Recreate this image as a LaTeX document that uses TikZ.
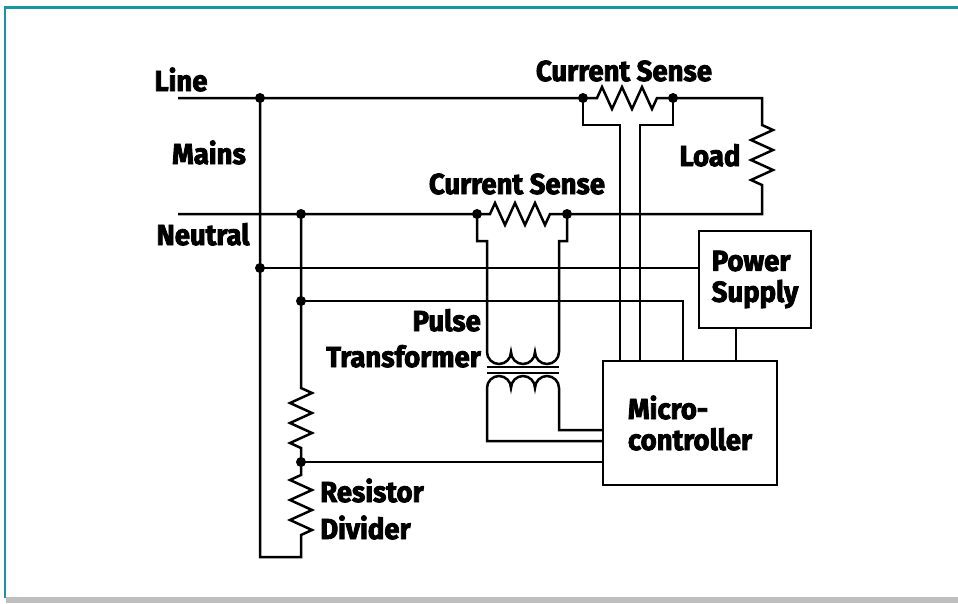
\documentclass[tikz,border=0pt]{standalone}
\usepackage{fontspec}
\usetikzlibrary{decorations.pathmorphing}
\newfontfamily\natpisfont{Fira Sans}[FakeStretch=0.95, FakeBold=2.8]
\definecolor{okvir}{RGB}{22,150,160}
\definecolor{siva}{RGB}{190,190,190}
\tikzset{zica/.style={line width=2.5pt},
    otpornik/.style={decoration={zigzag, segment length=20pt, amplitude=11pt}},
    otpornik2/.style={decoration={zigzag, segment length=20pt, amplitude=-11pt}},
    natpis/.style={font=\natpisfont\bfseries\fontsize{29}{33}\selectfont, inner sep=0pt},
    kutija/.style={draw, line width=2.5pt, inner sep=0pt,
        font=\natpisfont\bfseries\fontsize{29}{31}\selectfont}}

\begin{document}
\begin{tikzpicture}[x=1pt, y=-1pt]
    \useasboundingbox (0,0) rectangle (958,603);

    %okvir
    \fill[okvir] (4,6) rectangle (958,9);
    \fill[okvir] (4,6) rectangle (6,598);
    \fill[siva] (6,597) rectangle (958,603);

    %kutije
    \node[kutija, minimum width=174pt, minimum height=124pt, align=left]
        (mikro) at (690,423) {Micro-\\controller};
    \node[kutija, minimum width=112pt, minimum height=97pt, align=left]
        (napajanje) at (755,279.5) {Power\\Supply};

    %natpisi
    \node[natpis, anchor=base] (line) at (181,91) {Line};
    \node[natpis, anchor=base] (mains) at (209,164) {Mains};
    \node[natpis, anchor=base] (neutral) at (203,245) {Neutral};
    \node[natpis, anchor=base] (sensgore) at (624,81) {Current Sense};
    \node[natpis, anchor=base] (sensdole) at (517,194) {Current Sense};
    \node[natpis, anchor=base] (load) at (710,166) {Load};
    \node[natpis, anchor=base east] (pulse) at (481,331) {Pulse};
    \node[natpis, anchor=base east] (transf) at (481,367) {Transformer};
    \node[natpis, anchor=base west] (resistor) at (320,502) {Resistor};
    \node[natpis, anchor=base west] (divider) at (320,539) {Divider};

    %tacke
    \coordinate (l1) at (260,98);
    \coordinate (l2) at (583,98);
    \coordinate (l3) at (673,98);
    \coordinate (n1) at (301,214);
    \coordinate (n2) at (477,214);
    \coordinate (n3) at (567,214);
    \coordinate (m1) at (260,268);
    \coordinate (m2) at (301,301);
    \coordinate (d1) at (301,462);

    %linija i opterecenje
    \draw[zica] (178,98) -- (l1) -- (l2) -- (597,98)
        decorate[otpornik] {-- (657,98)} -- (l3) -- (762,98) -- (762,125)
        decorate[otpornik] {-- (762,185)} -- (762,214) -- (n3);
    %neutralni
    \draw[zica] (178,214) -- (n1) -- (n2) -- (490,214)
        decorate[otpornik] {-- (552,214)} -- (n3);

    %senzor gore
    \draw[zica] (l2) -- (583,125) -- (620,125) -- (620,0 |- mikro.north);
    \draw[zica] (l3) -- (673,125) -- (640,125) -- (640,0 |- mikro.north);

    %senzor dole i transformator
    \draw[zica] (n2) -- (477,241) -- (487,241) -- (487,352)
        arc[start angle=180, end angle=360, radius=12pt]
        arc[start angle=180, end angle=360, radius=12pt]
        arc[start angle=180, end angle=360, radius=12pt]
        -- (559,241) -- (567,241) -- (n3);
    \draw[line width=2pt] (487,366.5) -- (559,366.5);
    \draw[line width=2pt] (487,372.5) -- (559,372.5);
    \draw[zica] (603,441) -- (487,441) -- (487,388)
        arc[start angle=180, end angle=0, radius=12pt]
        arc[start angle=180, end angle=0, radius=12pt]
        arc[start angle=180, end angle=0, radius=12pt]
        -- (559,430) -- (603,430);

    %mreza i delitelj
    \draw[zica] (l1) -- (260,557) -- (301,557) -- (301,535)
        decorate[otpornik2] {-- (301,472)} -- (d1) -- (301,448)
        decorate[otpornik] {-- (301,387)} -- (n1);
    \draw[zica] (m1) -- (m1 -| napajanje.west);
    \draw[zica] (m2) -- (683,301) -- (683,0 |- mikro.north);
    \draw[zica] (napajanje.south) ++(-19,0) coordinate (ps) -- (ps |- mikro.north);
    \draw[zica] (d1) -- (d1 -| mikro.west);

    \foreach \t in {l1,l2,l3,n1,n2,n3,m1,m2,d1}
        \fill (\t) circle[radius=5pt];
\end{tikzpicture}
\end{document}
